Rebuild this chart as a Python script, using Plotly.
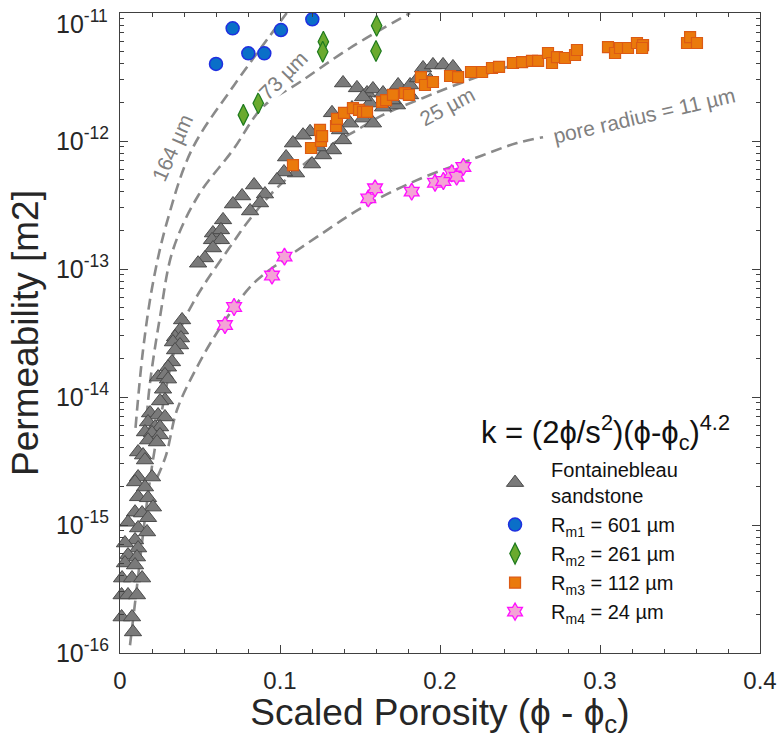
import plotly.graph_objects as go

FONT = "Liberation Sans, Arial, sans-serif"

# ---------------- data ----------------
# Fontainebleau sandstone
fb_phi = [0.1394, 0.1481, 0.1544, 0.1581, 0.1644, 0.1738, 0.1813, 0.1894, 0.1956, 0.2019,
          0.2081, 0.1813, 0.1731, 0.1644, 0.1563, 0.1519, 0.1325, 0.1438, 0.1519, 0.1581,
          0.1394, 0.1331, 0.1269, 0.1188, 0.1144, 0.1081, 0.1038, 0.1200, 0.1100, 0.1025,
          0.0981, 0.0838, 0.0906, 0.0875, 0.0813, 0.0763, 0.0706, 0.0644, 0.0581, 0.0631,
          0.0575, 0.0631, 0.0581, 0.0531, 0.0488, 0.1238, 0.1375, 0.1450, 0.1700, 0.1863,
          0.1938,
          0.0388, 0.0375, 0.0344, 0.0381, 0.0331, 0.0375, 0.0344, 0.0325, 0.0300, 0.0238,
          0.0281, 0.0300, 0.0269, 0.0281, 0.0250, 0.0188, 0.0238, 0.0281, 0.0175, 0.0219,
          0.0250, 0.0156, 0.0200, 0.0250, 0.0175, 0.0231, 0.0113, 0.0144, 0.0156, 0.0113,
          0.0200, 0.0094, 0.0156, 0.0113, 0.0175, 0.0206, 0.0094, 0.0138, 0.0175, 0.0050,
          0.0113, 0.0169, 0.0094, 0.0031, 0.0113, 0.0050, 0.0106, 0.0031, 0.0094, 0.0013,
          0.0075, 0.0138, 0.0010, 0.0050, 0.0106, 0.0010, 0.0075, 0.0081]
fb_k = [2.84e-12, 2.60e-12, 2.37e-12, 2.55e-12, 2.37e-12, 2.74e-12, 2.74e-12, 3.72e-12, 3.93e-12, 3.93e-12,
        3.79e-12, 2.29e-12, 1.91e-12, 1.84e-12, 1.98e-12, 2.21e-12, 1.66e-12, 1.38e-12, 1.51e-12, 1.38e-12,
        1.02e-12, 8.51e-13, 7.78e-13, 1.18e-12, 1.11e-12, 9.64e-13, 7.50e-13, 6.61e-13, 5.62e-13, 5.73e-13,
        4.96e-13, 4.53e-13, 3.85e-13, 3.28e-13, 2.84e-13, 3.72e-13, 3.22e-13, 2.42e-13, 1.91e-13, 2.02e-13,
        1.69e-13, 1.69e-13, 1.46e-13, 1.22e-13, 1.11e-13, 8.98e-13, 1.22e-12, 1.81e-12, 2.09e-12, 3.11e-12,
        3.00e-12,
        4.00e-14, 3.34e-14, 2.94e-14, 2.89e-14, 2.69e-14, 2.55e-14, 2.33e-14, 1.88e-14, 1.71e-14, 1.43e-14,
        1.49e-14, 1.38e-14, 1.15e-14, 9.48e-15, 9.31e-15, 7.50e-15, 7.23e-15, 6.98e-15, 6.38e-15, 5.83e-15,
        5.83e-15, 5.33e-15, 5.24e-15, 5.05e-15, 4.61e-15, 4.45e-15, 3.72e-15, 3.52e-15, 3.22e-15, 2.37e-15,
        2.37e-15, 2.17e-15, 1.98e-15, 1.66e-15, 1.63e-15, 1.38e-15, 1.26e-15, 1.24e-15, 1.14e-15, 1.05e-15,
        9.48e-16, 8.82e-16, 7.64e-16, 7.23e-16, 6.61e-16, 5.83e-16, 5.62e-16, 5.05e-16, 4.87e-16, 3.85e-16,
        3.85e-16, 3.85e-16, 2.84e-16, 2.84e-16, 2.84e-16, 1.91e-16, 1.91e-16, 1.46e-16]

# Rm1 = 601 um
rm1_phi = [0.0600, 0.0704, 0.0802, 0.0902, 0.1006, 0.1202]
rm1_k = [4.00e-12, 7.59e-12, 4.84e-12, 4.84e-12, 7.36e-12, 8.93e-12]

# Rm2 = 261 um
rm2_phi = [0.0771, 0.0864, 0.1271, 0.1267, 0.1604, 0.1600]
rm2_k = [1.60e-12, 1.97e-12, 5.97e-12, 4.99e-12, 7.96e-12, 5.05e-12]

# Rm3 = 112 um
rm3_phi = [0.1081, 0.1194, 0.1256, 0.1250, 0.1263, 0.1350, 0.1356, 0.1400, 0.1456, 0.1494,
           0.1519, 0.1544, 0.1638, 0.1663, 0.1706, 0.1781, 0.1806, 0.1881, 0.1906, 0.1956,
           0.2063, 0.2113, 0.2194, 0.2263, 0.2325, 0.2369, 0.2456, 0.2513, 0.2575, 0.2613,
           0.2675, 0.2700, 0.2731, 0.2781, 0.2844, 0.2856, 0.3050, 0.3094, 0.3125, 0.3175,
           0.3231, 0.3269, 0.3263, 0.3544, 0.3563, 0.3606]
rm3_k = [6.49e-13, 8.82e-13, 1.00e-12, 1.22e-12, 1.09e-12, 1.31e-12, 1.49e-12, 1.66e-12, 1.81e-12, 1.75e-12,
         1.69e-12, 1.69e-12, 2.02e-12, 2.09e-12, 2.29e-12, 2.37e-12, 2.29e-12, 3.16e-12, 2.74e-12, 2.89e-12,
         3.22e-12, 3.16e-12, 3.46e-12, 3.46e-12, 3.72e-12, 3.79e-12, 4.07e-12, 4.14e-12, 4.22e-12, 4.22e-12,
         4.87e-12, 4.07e-12, 4.53e-12, 4.45e-12, 4.70e-12, 5.14e-12, 5.42e-12, 4.87e-12, 5.33e-12, 5.33e-12,
         5.83e-12, 5.62e-12, 5.33e-12, 5.83e-12, 6.49e-12, 5.83e-12]

# Rm4 = 24 um
rm4_phi = [0.0656, 0.0713, 0.0950, 0.1028, 0.1552, 0.1594, 0.1823, 0.1969, 0.2021, 0.2073,
           0.2104, 0.2146]
rm4_k = [3.65e-14, 5.05e-14, 8.89e-14, 1.25e-13, 3.56e-13, 4.27e-13, 4.02e-13, 4.72e-13, 4.87e-13, 5.60e-13,
         5.26e-13, 6.27e-13]

# model curves (pore radius)
c164_phi = [0.0097, 0.0144, 0.0206, 0.0292, 0.0448, 0.0706, 0.0917, 0.1042]
c164_k = [5.73e-15, 2.33e-14, 7.78e-14, 2.29e-13, 8.51e-13, 2.65e-12, 6.15e-12, 1.00e-11]

c73_phi = [0.0167, 0.01875, 0.0250, 0.0331, 0.04875, 0.0706, 0.0894, 0.1125, 0.1438, 0.18125]
c73_k = [6.98e-15, 1.29e-14, 4.22e-14, 1.41e-13, 3.72e-13, 8.51e-13, 1.85e-12, 2.89e-12, 5.33e-12, 1.00e-11]

c25_phi = [0.00625, 0.0094, 0.0125, 0.01625, 0.0206, 0.02625, 0.0325, 0.03875, 0.0456, 0.0544,
           0.0688, 0.08125, 0.0981, 0.1250, 0.1481, 0.1644, 0.1894, 0.2063, 0.2269, 0.2481, 0.2625]
c25_k = [1.15e-16, 2.46e-16, 5.33e-16, 1.31e-15, 3.22e-15, 7.91e-15, 1.95e-14, 3.65e-14, 5.42e-14, 8.20e-14,
         1.49e-13, 2.46e-13, 4.30e-13, 8.20e-13, 1.22e-12, 1.60e-12, 2.17e-12, 2.64e-12, 3.28e-12, 4.00e-12,
         4.53e-12]

c11_phi = [0.0231, 0.0288, 0.0356, 0.0481, 0.0625, 0.0831, 0.1019, 0.1231, 0.1519, 0.1856,
           0.2188, 0.2481, 0.2644]
c11_k = [2.33e-15, 3.52e-15, 7.91e-15, 1.71e-14, 3.46e-14, 7.64e-14, 1.17e-13, 1.78e-13, 3.05e-13, 4.95e-13,
         7.11e-13, 9.64e-13, 1.07e-12]

x_tickvals = [0, 0.1, 0.2, 0.3, 0.4]
x_ticktext = ["0", "0.1", "0.2", "0.3", "0.4"]
y_tickvals = [1e-16, 1e-15, 1e-14, 1e-13, 1e-12, 1e-11]
y_ticktext = ["10<sup>-16</sup>", "10<sup>-15</sup>", "10<sup>-14</sup>",
              "10<sup>-13</sup>", "10<sup>-12</sup>", "10<sup>-11</sup>"]
minor_mantissas = [2, 3, 4, 5, 6, 7, 8, 9]

# ---------------- figure ----------------
fig = go.Figure()

curve_line = dict(color="#8a8a8a", width=2.6, dash="11px,6px", shape="spline")
for cx, cy in [(c164_phi, c164_k), (c73_phi, c73_k), (c25_phi, c25_k), (c11_phi, c11_k)]:
    fig.add_trace(go.Scatter(x=cx, y=cy, mode="lines", line=curve_line,
                             showlegend=False, hoverinfo="skip"))

fig.add_trace(go.Scatter(
    x=fb_phi, y=fb_k, mode="markers", name="Fontainebleau<br>sandstone",
    marker=dict(symbol="triangle-up", size=15, color="#7a7a7a",
                line=dict(color="#4a4a4a", width=1)),
    cliponaxis=False))
fig.add_trace(go.Scatter(
    x=rm1_phi, y=rm1_k, mode="markers", name="R<sub>m1</sub> = 601 µm",
    marker=dict(symbol="circle", size=13, color="#0a6fc8",
                line=dict(color="#1f2fe0", width=1.5)),
    cliponaxis=False))
fig.add_trace(go.Scatter(
    x=rm2_phi, y=rm2_k, mode="markers", name="R<sub>m2</sub> = 261 µm",
    marker=dict(symbol="diamond-tall", size=15, color="#6aaa2e",
                line=dict(color="#1e7a1e", width=1.2)),
    cliponaxis=False))
fig.add_trace(go.Scatter(
    x=rm3_phi, y=rm3_k, mode="markers", name="R<sub>m3</sub> = 112 µm",
    marker=dict(symbol="square", size=11, color="#ea7a0c",
                line=dict(color="#dc5a14", width=1.2)),
    cliponaxis=False))
fig.add_trace(go.Scatter(
    x=rm4_phi, y=rm4_k, mode="markers", name="R<sub>m4</sub> = 24 µm",
    marker=dict(symbol="hexagram", size=13, color="#f4a3d6",
                line=dict(color="#ff10ff", width=1.3)),
    cliponaxis=False))

axis_col = "#404040"
tick_font = dict(family=FONT, size=25, color="#262626")
fig.update_xaxes(
    range=[0, 0.4], automargin=False, ticklabeloverflow="allow",
    showline=True, linecolor=axis_col, linewidth=1, mirror="allticks",
    ticks="inside", ticklen=8, tickcolor=axis_col, tickwidth=1,
    tickvals=x_tickvals, ticktext=x_ticktext,
    minor=dict(dtick=0.02, tick0=0, ticks="inside", ticklen=4, tickcolor=axis_col, showgrid=False),
    showgrid=False, zeroline=False,
    tickfont=dict(family=FONT, size=24, color="#262626"), ticklabelstandoff=6,
    title=dict(text="Scaled Porosity (ϕ - ϕ<sub>c</sub>)",
               font=dict(family=FONT, size=37, color="#262626"), standoff=0))
# the top label (10^-11) is drawn separately, nudged down so it stays inside the page
fig.update_yaxes(
    type="log", range=[-16, -10.9999], automargin=False, ticklabeloverflow="allow",
    showline=True, linecolor=axis_col, linewidth=1, mirror="allticks",
    ticks="inside", ticklen=8, tickcolor=axis_col, tickwidth=1,
    tickvals=y_tickvals, ticktext=y_ticktext[:-1] + [""],
    minor=dict(tickvals=[m * v for v in y_tickvals[:-1] for m in minor_mantissas],
               ticks="inside", ticklen=4, tickcolor=axis_col, showgrid=False),
    showgrid=False, zeroline=False,
    tickfont=tick_font, ticklabelstandoff=5,
    title=dict(text="Permeability [m2]", font=dict(family=FONT, size=37, color="#262626"),
               standoff=5))
fig.add_annotation(x=0, y=1, xref="paper", yref="paper", xanchor="right", yanchor="middle",
                   xshift=-10, yshift=-9, text=y_ticktext[-1], showarrow=False, font=tick_font)

lab_font = dict(family=FONT, size=21, color="#808080")
fig.add_annotation(x=0.0323, y=-12.055, xref="x", yref="y", text="164 µm", showarrow=False,
                   textangle=-66, font=lab_font)
fig.add_annotation(x=0.1019, y=-11.49, xref="x", yref="y", text="73 µm", showarrow=False,
                   textangle=-45, font=lab_font, bgcolor="white", borderpad=0)
fig.add_annotation(x=0.2044, y=-11.734, xref="x", yref="y", text="25 µm", showarrow=False,
                   textangle=-28, font=lab_font)
fig.add_annotation(x=0.3275, y=-11.797, xref="x", yref="y", text="pore radius = 11 µm",
                   showarrow=False, textangle=-13, font=lab_font)

fig.add_annotation(x=0.758, y=0.345, xref="paper", yref="paper", xanchor="center", yanchor="middle",
                   text="k = (2ϕ/s<sup>2</sup>)(ϕ-ϕ<sub>c</sub>)<sup>4.2</sup>",
                   showarrow=False, font=dict(family=FONT, size=31, color="#111111"))

fig.update_layout(
    width=778, height=738,
    margin=dict(l=120, r=18, t=13, b=85, autoexpand=False),
    paper_bgcolor="white", plot_bgcolor="white",
    font=dict(family=FONT, color="#262626"),
    legend=dict(x=0.561, y=0.317, xanchor="left", yanchor="top",
                font=dict(family=FONT, size=20, color="#111111"),
                bgcolor="rgba(0,0,0,0)", tracegroupgap=0, itemwidth=62),
    showlegend=True,
)

fig.write_html("out.html", config={"displayModeBar": False},
               post_script="document.body.style.margin='0';document.body.style.overflow='hidden';")
